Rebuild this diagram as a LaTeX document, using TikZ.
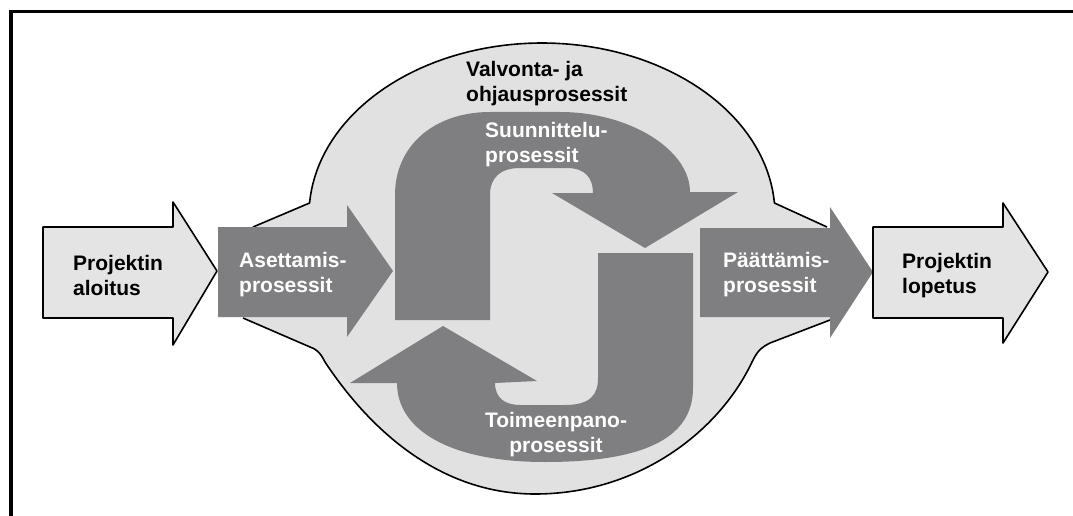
\documentclass[tikz,border=0pt]{standalone}
\usepackage{fontspec}
\setmainfont{Liberation Sans}
\definecolor{blobfill}{HTML}{E1E1E1}
\definecolor{lightarrow}{HTML}{E4E4E4}
\definecolor{darkarrow}{HTML}{7F7F81}
\begin{document}
\begin{tikzpicture}[x=1pt,y=-1pt,
  lbl/.style={font=\bfseries\fontsize{21}{25}\selectfont, inner sep=0pt, align=left, anchor=north west},
  wlbl/.style={lbl, text=white},
  blbl/.style={lbl, text=black},
  outline/.style={draw=black, line width=1.6pt, line join=round},
  graybox/.style={fill=darkarrow},
  whitebox/.style={fill=lightarrow, outline}]
\useasboundingbox (0,0) rectangle (1073,516);
% frame
\draw[line width=3.5pt] (11,516) -- (11,11.5) -- (1073,11.5);
% blob fill
\fill[blobfill] (253,227) -- plot[domain=184:356,samples=80,variable=\t] ({542+233*cos(\t)},{215+172*sin(\t)})
  -- (827,227) -- (830,320) -- (770,343) .. controls (760,348) and (757,352) .. (752,362)
  .. controls (720,430) and (640,494) .. (535,494)
  .. controls (440,494) and (370,430) .. (325,362)
  .. controls (320,352) and (316,349) .. (310,347) -- (243,318) -- cycle;
% blob outlines
\draw[outline] (253,227) -- plot[domain=184:356,samples=80,variable=\t] ({542+233*cos(\t)},{215+172*sin(\t)}) -- (827,227);
\draw[outline] (830,320) -- (770,343) .. controls (760,348) and (757,352) .. (752,362)
  .. controls (720,430) and (640,494) .. (535,494)
  .. controls (440,494) and (370,430) .. (325,362)
  .. controls (320,352) and (316,349) .. (310,347) -- (243,318);
% side gray arrows
\fill[graybox] (218,227) -- (347,227) -- (347,205) -- (393,271) -- (347,337) -- (347,317) -- (218,317) -- cycle;
\fill[graybox] (700,228) -- (830,228) -- (830,207) -- (873,272) -- (830,338) -- (830,317) -- (700,317) -- cycle;
% upper curved arrow
\fill[graybox] (395,320) -- (395,195) .. controls (395,145) and (435,112) .. (490,112) -- (560,112)
  .. controls (630,112) and (690,150) .. (690,192) -- (738,192) -- (645,248) -- (552,193) -- (593,193)
  .. controls (593,178) and (585,168) .. (567,168) -- (520,168)
  .. controls (500,168) and (490,178) .. (490,195) -- (490,320) -- cycle;
% lower curved arrow
\fill[graybox] (598,253) -- (693,253) -- (693,388) .. controls (693,440) and (640,462) .. (545,462)
  .. controls (450,462) and (397,430) .. (397,383) -- (350,383) -- (443,326) -- (537,381) -- (495,383)
  .. controls (495,398) and (505,405) .. (520,405) -- (565,405)
  .. controls (590,405) and (598,395) .. (598,378) -- cycle;
% white arrows
\path[whitebox] (43,227) -- (173,227) -- (173,202) -- (217,271) -- (173,345) -- (173,318) -- (43,318) -- cycle;
\path[whitebox] (873,227) -- (1003,227) -- (1003,203) -- (1048,272) -- (1003,343) -- (1003,318) -- (873,318) -- cycle;
% texts
\node[blbl] (aloitus) at (73,255) {Projektin\\aloitus};
\node[wlbl] (asett) at (239,252) {Asettamis-\\prosessit};
\node[blbl] (valv) at (466,61) {Valvonta- ja\\ohjausprosessit};
\node[wlbl] (suunn) at (485,122) {Suunnittelu-\\prosessit};
\node[wlbl, align=center, anchor=north] (toim) at (556,412) {Toimeenpano-\\prosessit};
\node[wlbl] (paatt) at (723,252) {Päättämis-\\prosessit};
\node[blbl] (lopetus) at (902,253) {Projektin\\lopetus};
\end{tikzpicture}
\end{document}
